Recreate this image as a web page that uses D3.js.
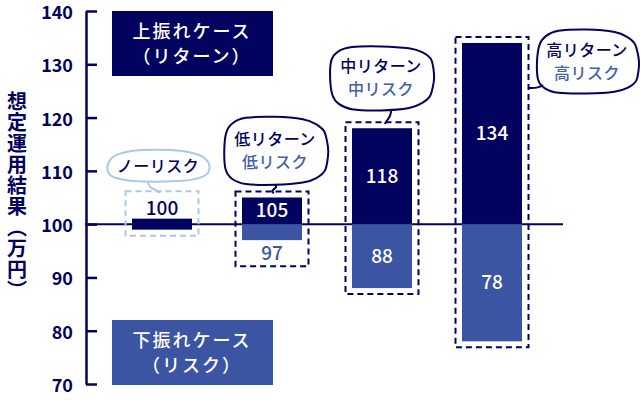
<!DOCTYPE html>
<html>
<head>
<meta charset="utf-8">
<script src="https://cdn.jsdelivr.net/npm/d3@7"></script>
<style>
  body { margin: 0; background: #fff; }
  svg { display: block; font-family: "Noto Sans CJK JP", "Noto Sans", sans-serif; }
</style>
</head>
<body>
<div id="chart"></div>
<script>
// chart data
const returnLines = ["", "低リターン", "中リターン", "高リターン"];
const riskLines = ["ノーリスク", "低リスク", "中リスク", "高リスク"];
const upside = [100, 105, 118, 134];
const downside = [100, 97, 88, 78];
const yTicks = [70, 80, 90, 100, 110, 120, 130, 140];
const yTitle = "想定運用結果（万円）";
const legendUp = ["上振れケース", "（リターン）"];
const legendDown = ["下振れケース", "（リスク）"];

const width = 640;
const height = 400;
const navy = "#02025f";
const blue = "#3b55a3";
const textBlue = "#4461a6";
const pale = "#a9c9e6";

const svg = d3.select("#chart")
  .append("svg")
  .attr("width", width)
  .attr("height", height);

const x = d3.scalePoint()
  .domain(d3.range(upside.length))
  .range([162, 492]);
const barW = 60;

const y = d3.scaleLinear()
  .domain([70, 140])
  .range([384, 11]);

// baseline at 100
svg.append("line")
  .attr("x1", 85).attr("x2", 563)
  .attr("y1", y(100)).attr("y2", y(100))
  .attr("stroke", navy).attr("stroke-width", 2);

// y axis
const axis = svg.append("g")
  .attr("transform", "translate(86,0)")
  .call(d3.axisLeft(y).tickValues(yTicks).tickSize(-11).tickSizeOuter(0).tickPadding(13));
axis.select(".domain").attr("stroke", navy).attr("stroke-width", 2.5);
axis.selectAll(".tick line").attr("stroke", navy).attr("stroke-width", 2.5);
axis.selectAll(".tick text")
  .attr("fill", navy)
  .attr("font-size", 18)
  .attr("dy", "0.42em")
  .attr("font-weight", 700)
  .attr("font-family", "'Noto Sans CJK JP', sans-serif");

svg.append("text")
  .attr("x", 17).attr("y", 196)
  .attr("text-anchor", "middle")
  .style("writing-mode", "vertical-rl")
  .attr("font-size", 20)
  .attr("font-weight", 700)
  .attr("letter-spacing", 1)
  .attr("fill", navy)
  .text(yTitle);

// legend boxes
function legend(lines, top, fill) {
  const g = svg.append("g");
  g.append("rect")
    .attr("x", 112).attr("y", top)
    .attr("width", 161).attr("height", 65)
    .attr("fill", fill);
  g.selectAll("text").data(lines).join("text")
    .attr("x", 192)
    .attr("y", (d, i) => top + 27 + i * 25)
    .attr("text-anchor", "middle")
    .attr("font-size", 18)
    .attr("font-weight", 500)
    .attr("letter-spacing", 2)
    .attr("fill", "#fff")
    .text(d => d);
}
legend(legendUp, y(140), navy);
legend(legendDown, y(70) - 64, blue);

// bars
const items = upside.map((u, i) => ({ i, up: u, down: downside[i] }));
const flat = d => d.up === d.down;

items.forEach(d => {
  const cx = x(d.i);
  const x0 = cx - barW / 2;
  let top, bottom;
  if (flat(d)) {
    svg.append("rect")
      .attr("x", x0).attr("y", y(d.up) - 5.5)
      .attr("width", barW).attr("height", 11)
      .attr("fill", navy);
    svg.append("text")
      .attr("x", cx).attr("y", y(d.up) - 16)
      .attr("dy", "0.35em")
      .attr("text-anchor", "middle")
      .attr("font-size", 19).attr("font-weight", 500)
      .attr("fill", navy)
      .text(d.up);
    top = y(d.up) - 33;
    bottom = y(d.up) + 11.5;
  } else {
    svg.append("rect")
      .attr("x", x0).attr("y", y(d.up))
      .attr("width", barW).attr("height", y(100) - y(d.up))
      .attr("fill", navy);
    svg.append("rect")
      .attr("x", x0).attr("y", y(100))
      .attr("width", barW).attr("height", y(d.down) - y(100))
      .attr("fill", blue);
    svg.append("text")
      .attr("x", cx).attr("y", (y(d.up) + y(100)) / 2)
      .attr("dy", "0.35em")
      .attr("text-anchor", "middle")
      .attr("font-size", 19).attr("font-weight", 500)
      .attr("fill", "#fff")
      .text(d.up);
    const lowH = y(d.down) - y(100);
    const outside = lowH < 24;
    svg.append("text")
      .attr("x", cx).attr("y", outside ? y(d.down) + 13 : (y(100) + y(d.down)) / 2)
      .attr("dy", "0.35em")
      .attr("text-anchor", "middle")
      .attr("font-size", 19).attr("font-weight", 500)
      .attr("fill", outside ? blue : "#fff")
      .text(d.down);
    top = y(d.up) - 6;
    bottom = outside ? y(d.down) + 26 : y(d.down) + 6;
  }
  svg.append("rect")
    .attr("x", x0 - 6.5).attr("y", top)
    .attr("width", barW + 13).attr("height", bottom - top)
    .attr("fill", "none")
    .attr("stroke", flat(d) ? pale : navy)
    .attr("stroke-width", 2)
    .attr("stroke-dasharray", "6 4");
});

// speech bubbles
const blob = d3.line().curve(d3.curveCardinalClosed.tension(0.2));
function bubblePath(cx, cy, w, h, n, phase) {
  const pts = [];
  const a = w / 2, b = h / 2;
  for (let k = 0; k < 16; k++) {
    const t = k / 16 * Math.PI * 2;
    const c = Math.cos(t), s = Math.sin(t);
    const wob = 1 + 0.025 * Math.sin(3 * t + phase);
    pts.push([
      cx + a * wob * Math.sign(c) * Math.pow(Math.abs(c), 2 / n),
      cy + b * wob * Math.sign(s) * Math.pow(Math.abs(s), 2 / n)
    ]);
  }
  return blob(pts);
}

const bubbles = [
  { cx: 158, cy: 166, w: 102, h: 32, n: 2.6, ph: 0.4 },
  { cx: 275, cy: 151, w: 104, h: 68, n: 3.2, ph: 1.3 },
  { cx: 381, cy: 78, w: 104, h: 64, n: 3.2, ph: 2.1 },
  { cx: 587, cy: 62, w: 102, h: 64, n: 3.2, ph: 0.9 }
];

const tails = [
  "M148,182 C149,190 156,188 160,193",
  "M275,185 C280,188 268,190 274,193",
  "M391,109 C392,118 386,120 385,124",
  "M543,85 C537,89 533,88 528,88"
];

items.forEach(d => {
  const b = bubbles[d.i];
  const col = flat(d) ? pale : navy;
  svg.append("path")
    .attr("d", bubblePath(b.cx, b.cy, b.w, b.h, b.n, b.ph))
    .attr("fill", "#fff")
    .attr("stroke", col)
    .attr("stroke-width", 2);
  svg.append("path")
    .attr("d", tails[d.i])
    .attr("fill", "none")
    .attr("stroke", col)
    .attr("stroke-width", 2);
  const lines = returnLines[d.i] ? [returnLines[d.i], riskLines[d.i]] : [riskLines[d.i]];
  svg.selectAll(null).data(lines).join("text")
    .attr("x", b.cx)
    .attr("y", (t, k) => b.cy + (k - (lines.length - 1) / 2) * 23)
    .attr("dy", "0.35em")
    .attr("text-anchor", "middle")
    .attr("font-size", 16)
    .attr("font-weight", 500)
    .attr("letter-spacing", 0.5)
    .attr("fill", (t, k) => (lines.length === 2 && k === 1) ? textBlue : navy)
    .text(t => t);
});
</script>
</body>
</html>
